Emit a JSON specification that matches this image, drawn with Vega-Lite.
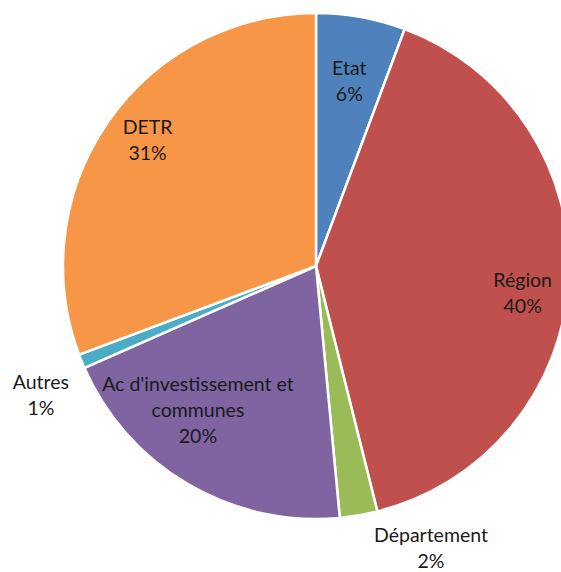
{
  "$schema": "https://vega.github.io/schema/vega-lite/v6.json",
  "width": 506,
  "height": 506,
  "autosize": "none",
  "padding": {"left": 63, "top": 13, "right": 0, "bottom": 53},
  "background": "white",
  "config": {"view": {"stroke": null}},
  "data": {
    "values": [
      {"i": 1, "name": "Etat", "value": 0.057},
      {"i": 2, "name": "Région", "value": 0.404},
      {"i": 3, "name": "Département", "value": 0.024},
      {"i": 4, "name": "Ac d'investissement et communes", "value": 0.199},
      {"i": 5, "name": "Autres", "value": 0.009},
      {"i": 6, "name": "DETR", "value": 0.307}
    ]
  },
  "transform": [
    {"calculate": "replace(datum.name, 'et c', 'et\\nc') + '\\n' + format(datum.value, '.0%')", "as": "label"}
  ],
  "encoding": {
    "theta": {"field": "value", "type": "quantitative", "stack": true},
    "order": {"field": "i", "type": "quantitative"}
  },
  "layer": [
    {
      "mark": {"type": "arc", "outerRadius": 253, "stroke": "white", "strokeWidth": 2.5},
      "encoding": {
        "color": {
          "field": "name", "type": "nominal", "legend": null,
          "scale": {
            "domain": ["Etat", "Région", "Département", "Ac d'investissement et communes", "Autres", "DETR"],
            "range": ["#4F81BD", "#C0504D", "#9BBB59", "#8064A2", "#4BACC6", "#F79646"]
          }
        }
      }
    },
    {
      "mark": {"type": "text", "radius": 187, "dy": -13, "font": "Lato", "fontSize": 19.5, "lineHeight": 26, "lineBreak": "\n", "color": "#1a1a1a", "baseline": "middle", "align": "center"},
      "encoding": {"text": {"condition": {"test": "datum.name === 'Etat'", "field": "label"}, "value": ""}}
    },
    {
      "mark": {"type": "text", "radius": 207, "dy": 3, "font": "Lato", "fontSize": 19.5, "lineHeight": 26, "lineBreak": "\n", "color": "#1a1a1a", "baseline": "middle", "align": "center"},
      "encoding": {"text": {"condition": {"test": "datum.name === 'Région'", "field": "label"}, "value": ""}}
    },
    {
      "mark": {"type": "text", "radius": 290, "dx": 66, "dy": -16, "font": "Lato", "fontSize": 19.5, "lineHeight": 26, "lineBreak": "\n", "color": "#1a1a1a", "baseline": "middle", "align": "center"},
      "encoding": {"text": {"condition": {"test": "datum.name === 'Département'", "field": "label"}, "value": ""}}
    },
    {
      "mark": {"type": "text", "radius": 168, "dx": -33, "dy": -26, "font": "Lato", "fontSize": 19.5, "lineHeight": 26, "lineBreak": "\n", "color": "#1a1a1a", "baseline": "middle", "align": "center"},
      "encoding": {"text": {"condition": {"test": "datum.name === \"Ac d'investissement et communes\"", "field": "label"}, "value": ""}}
    },
    {
      "mark": {"type": "text", "radius": 297, "dy": 5, "font": "Lato", "fontSize": 19.5, "lineHeight": 26, "lineBreak": "\n", "color": "#1a1a1a", "baseline": "middle", "align": "center"},
      "encoding": {"text": {"condition": {"test": "datum.name === 'Autres'", "field": "label"}, "value": ""}}
    },
    {
      "mark": {"type": "text", "radius": 205, "dy": -21, "font": "Lato", "fontSize": 19.5, "lineHeight": 26, "lineBreak": "\n", "color": "#1a1a1a", "baseline": "middle", "align": "center"},
      "encoding": {"text": {"condition": {"test": "datum.name === 'DETR'", "field": "label"}, "value": ""}}
    }
  ]
}
